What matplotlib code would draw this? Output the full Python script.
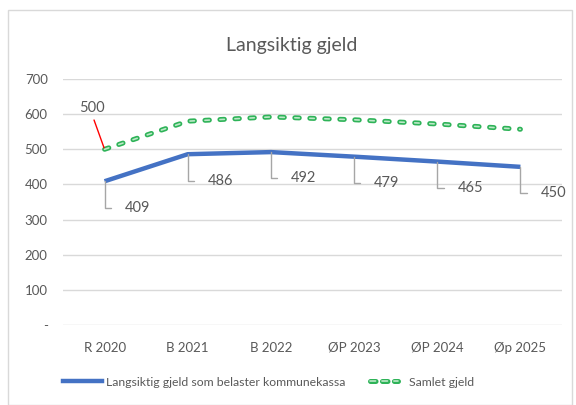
import matplotlib
matplotlib.use("Agg")
import matplotlib.pyplot as plt
from matplotlib.lines import Line2D
from matplotlib.patches import Rectangle
from matplotlib.legend_handler import HandlerTuple

plt.rcParams["font.family"] = ["Lato", "DejaVu Sans"]
plt.rcParams["lines.scale_dashes"] = False

# Data
years = ["R 2020", "B 2021", "B 2022", "ØP 2023", "ØP 2024", "Øp 2025"]
kommunekassa = [409, 486, 492, 479, 465, 450]
samlet = [500, 580, 592, 584, 572, 557]
y_ticks = [0, 100, 200, 300, 400, 500, 600, 700]
y_tick_labels = ["-", "100", "200", "300", "400", "500", "600", "700"]

grey = "#595959"
blue = "#4472C4"
green_edge = "#2EB358"
green_fill = "#BDE8C8"
dash = (0, (3.2, 7.6))
dash_leg = (0, (4, 4.6))

fig = plt.figure(figsize=(5.76, 4.05), dpi=100)
fig.patches.append(Rectangle((8 / 576, 0), 564 / 576, 1 - 10 / 405,
                             transform=fig.transFigure, fill=False,
                             edgecolor="#D9D9D9", linewidth=1))

ax = fig.add_axes([63 / 576, 1 - 325 / 405, 499 / 576, 246 / 405])
x = list(range(len(years)))

ax.plot(x, kommunekassa, color=blue, linewidth=3.2, solid_capstyle="butt", zorder=3)
ax.plot(x, samlet, color=green_edge, linewidth=3.6, linestyle=dash,
        dash_capstyle="round", zorder=3)
ax.plot(x, samlet, color=green_fill, linewidth=1.2, linestyle=dash,
        dash_capstyle="round", zorder=4)

ax.set_xlim(-0.5, len(years) - 0.5)
ax.set_ylim(0, 700)
ax.set_xticks(x)
ax.set_xticklabels(years)
ax.set_yticks(y_ticks)
ax.set_yticklabels(y_tick_labels)
ax.tick_params(axis="x", length=0, pad=12, labelsize=9.5, colors=grey)
ax.tick_params(axis="y", length=0, pad=11, labelsize=9.5, colors=grey)
ax.grid(axis="y", color="#D9D9D9", linewidth=1)
ax.set_axisbelow(True)
for s in ax.spines.values():
    s.set_visible(False)

# blue data labels with grey leader lines
for xi, v in zip(x, kommunekassa):
    ax.annotate(str(v), xy=(xi, v), xytext=(14.5, -19), textcoords="offset points",
                ha="left", va="center", fontsize=10.5, color=grey,
                arrowprops=dict(arrowstyle="-", color="#A6A6A6", lw=1,
                                relpos=(0, 0.5), shrinkA=8, shrinkB=0,
                                connectionstyle="angle,angleA=0,angleB=90,rad=0"))

# label for the first green point
ax.annotate(str(samlet[0]), xy=(0, samlet[0]), xytext=(-9, 30),
            textcoords="offset points", ha="center", va="center",
            fontsize=10.5, color=grey,
            arrowprops=dict(arrowstyle="-", color="red", lw=1,
                            relpos=(0.5, 0), shrinkA=2, shrinkB=1))

fig.text(292 / 576, 1 - 45 / 405, "Langsiktig gjeld", ha="center", va="center",
         fontsize=14, color=grey)

# legend, two parts so each key can have its own length
leg_y = 1 - 382 / 405
h_blue = Line2D([], [], color=blue, linewidth=3.2)
fig.legend([h_blue], ["Langsiktig gjeld som belaster kommunekassa"],
           loc="center left", bbox_to_anchor=(63 / 576, leg_y),
           frameon=False, fontsize=8.8, labelcolor=grey,
           handlelength=3.2, handletextpad=0.3,
           borderpad=0, borderaxespad=0)
h_g1 = Line2D([], [], color=green_edge, linewidth=3.6, linestyle=dash_leg,
              dash_capstyle="round")
h_g2 = Line2D([], [], color=green_fill, linewidth=1.2, linestyle=dash_leg,
              dash_capstyle="round")
fig.legend([(h_g1, h_g2)], ["Samlet gjeld"],
           handler_map={tuple: HandlerTuple(ndivide=1, pad=0)},
           loc="center left", bbox_to_anchor=(370 / 576, leg_y),
           frameon=False, fontsize=8.8, labelcolor=grey,
           handlelength=2.3, handletextpad=0.9,
           borderpad=0, borderaxespad=0)

fig.savefig("out.png", dpi=100)
